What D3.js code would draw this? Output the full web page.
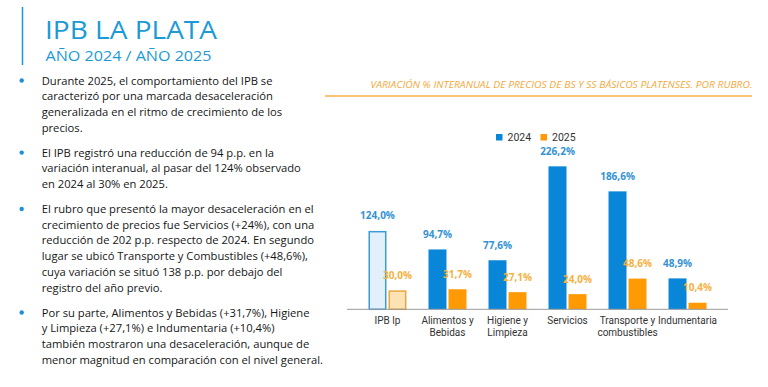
<!DOCTYPE html>
<html>
<head>
<meta charset="utf-8">
<script src="https://cdn.jsdelivr.net/npm/d3@7"></script>
<style>
  body { margin: 0; background: #fff; }
  svg { display: block; }
</style>
</head>
<body>
<div id="chart"></div>
<script>
// Data
var categories = [["IPB lp"], ["Alimentos y", "Bebidas"], ["Higiene y", "Limpieza"], ["Servicios"], ["Transporte y", "combustibles"], ["Indumentaria"]];
var years = ["2024", "2025"];
var values2024 = [124.0, 94.7, 77.6, 226.2, 186.6, 48.9];
var values2025 = [30.0, 31.7, 27.1, 24.0, 48.6, 10.4];

var paragraphs = [
  ["Durante 2025, el comportamiento del IPB se",
   "caracterizó por una marcada desaceleración",
   "generalizada en el ritmo de crecimiento de los",
   "precios."],
  ["El IPB registró una reducción de 94 p.p. en la",
   "variación interanual, al pasar del 124% observado",
   "en 2024 al 30% en 2025."],
  ["El rubro que presentó la mayor desaceleración en el",
   "crecimiento de precios fue Servicios (+24%), con una",
   "reducción de 202 p.p. respecto de 2024. En segundo",
   "lugar se ubicó Transporte y Combustibles (+48,6%),",
   "cuya variación se situó 138 p.p. por debajo del",
   "registro del año previo."],
  ["Por su parte, Alimentos y Bebidas (+31,7%), Higiene",
   "y Limpieza (+27,1%) e Indumentaria (+10,4%)",
   "también mostraron una desaceleración, aunque de",
   "menor magnitud en comparación con el nivel general."]
];

var width = 768, height = 387;
var blue = "#0a86d8", orange = "#ff9a05";
var titleBlue = "#1b9ad6";

var svg = d3.select("#chart").append("svg")
    .attr("width", width)
    .attr("height", height);

// Header
svg.append("line")
    .attr("x1", 22.5).attr("x2", 22.5)
    .attr("y1", 7).attr("y2", 65)
    .attr("stroke", titleBlue)
    .attr("stroke-width", 1.5);

svg.append("text")
    .attr("x", 45).attr("y", 38.8)
    .attr("font-family", "Open Sans")
    .attr("font-size", 25)
    .attr("fill", titleBlue)
    .attr("textLength", 172)
    .attr("lengthAdjust", "spacingAndGlyphs")
    .text("IPB LA PLATA");

svg.append("text")
    .attr("x", 45.5).attr("y", 61.3)
    .attr("font-family", "Open Sans")
    .attr("font-size", 14.6)
    .attr("fill", titleBlue)
    .attr("textLength", 166)
    .attr("lengthAdjust", "spacingAndGlyphs")
    .text("AÑO 2024 / AÑO 2025");

// Body text
var body = svg.append("g")
    .attr("font-family", "Open Sans")
    .attr("font-weight", 500)
    .attr("fill", "#161616");

var lineH = 15.7, paraGap = 9.3;
var yy = 84.5;
var textLines = [];
paragraphs.forEach(function(p) {
  body.append("circle")
      .attr("cx", 21.7).attr("cy", yy - 4)
      .attr("r", 2.2)
      .attr("fill", "#1f8fd6");
  p.forEach(function(line) {
    var t = body.append("text")
        .attr("x", 41.7).attr("y", yy)
        .attr("font-size", 12)
        .text(line);
    textLines.push(t);
    yy += lineH;
  });
  yy += paraGap;
});

// fit the widest line to the width seen in the reference
var widest = d3.max(textLines, function(t) { return t.node().getComputedTextLength(); });
var fs = 12 * 281.5 / widest;
textLines.forEach(function(t) { t.attr("font-size", fs); });

// Chart title + rule
svg.append("text")
    .attr("x", 752.5).attr("y", 88)
    .attr("text-anchor", "end")
    .attr("font-family", "Open Sans")
    .attr("font-style", "italic")
    .attr("font-size", 9.6)
    .attr("fill", "#f5a83a")
    .attr("textLength", 382)
    .attr("lengthAdjust", "spacingAndGlyphs")
    .text("VARIACIÓN % INTERANUAL DE PRECIOS DE BS Y SS BÁSICOS PLATENSES. POR RUBRO.");

svg.append("line")
    .attr("x1", 325).attr("x2", 752)
    .attr("y1", 96).attr("y2", 96)
    .attr("stroke", "#f7b04a")
    .attr("stroke-width", 1.5);

// Scales
var x0 = d3.scaleBand()
    .domain(d3.range(categories.length))
    .range([347, 728])
    .paddingInner(0.367)
    .paddingOuter(0.358);

var x1 = d3.scaleBand()
    .domain(years)
    .range([0, x0.bandwidth()])
    .paddingInner(0.1);

var y = d3.scaleLinear()
    .domain([0, 250])
    .range([309.3, 151.3]);

var data = categories.map(function(c, i) {
  return { i: i, label: c, v: { "2024": values2024[i], "2025": values2025[i] } };
});

var fmt = function(v) { return v.toFixed(1).replace(".", ",") + "%"; };

var groups = svg.selectAll(".grp")
    .data(data)
  .enter().append("g")
    .attr("class", "grp")
    .attr("transform", function(d) { return "translate(" + x0(d.i) + ",0)"; });

groups.selectAll("rect")
    .data(function(d) { return years.map(function(yr) { return { yr: yr, v: d.v[yr], first: d.i === 0 }; }); })
  .enter().append("rect")
    .attr("x", function(d) { return x1(d.yr) + (d.first ? 0.75 : 0); })
    .attr("y", function(d) { return y(d.v) + (d.first ? 0.75 : 0); })
    .attr("width", function(d) { return x1.bandwidth() - (d.first ? 1.5 : 0); })
    .attr("height", function(d) { return y(0) - y(d.v) - (d.first ? 0.75 : 0); })
    .attr("fill", function(d) {
      if (d.first) return d.yr === "2024" ? "#e2f0fb" : "#fde2b4";
      return d.yr === "2024" ? blue : orange;
    })
    .attr("stroke", function(d) {
      if (!d.first) return "none";
      return d.yr === "2024" ? "#3c9ad8" : "#eaa640";
    })
    .attr("stroke-width", 1.5);

groups.selectAll(".val")
    .data(function(d) { return years.map(function(yr) { return { yr: yr, v: d.v[yr] }; }); })
  .enter().append("text")
    .attr("class", "val")
    .attr("x", function(d) { return x1(d.yr) + x1.bandwidth() / 2; })
    .attr("y", function(d) { return y(d.v) - 11.5; })
    .attr("text-anchor", "middle")
    .attr("font-family", "Open Sans")
    .attr("font-weight", "bold")
    .attr("font-size", 10)
    .attr("fill", function(d) { return d.yr === "2024" ? "#3493d3" : "#f6b13f"; })
    .text(function(d) { return fmt(d.v); });

// Baseline
svg.append("line")
    .attr("x1", 347).attr("x2", 728)
    .attr("y1", y(0)).attr("y2", y(0))
    .attr("stroke", "#999")
    .attr("stroke-width", 1);

// Category labels
groups.each(function(d) {
  var t = d3.select(this).append("text")
      .attr("x", x0.bandwidth() / 2)
      .attr("y", 324)
      .attr("text-anchor", "middle")
      .attr("font-family", "Roboto, Liberation Sans, sans-serif")
      .attr("font-size", 10)
      .attr("fill", "#333");
  d.label.forEach(function(l, k) {
    t.append("tspan")
        .attr("x", x0.bandwidth() / 2)
        .attr("dy", k === 0 ? 0 : 11.7)
        .text(l);
  });
});

// Legend
var legend = svg.append("g")
    .attr("font-family", "Roboto, Liberation Sans, sans-serif")
    .attr("font-size", 10.5)
    .attr("fill", "#333");

var legX = [496, 540.5];
years.forEach(function(yr, k) {
  legend.append("rect")
      .attr("x", legX[k]).attr("y", 134)
      .attr("width", 6.5).attr("height", 6.5)
      .attr("fill", k === 0 ? blue : orange);
  legend.append("text")
      .attr("x", legX[k] + 11.5).attr("y", 141)
      .text(yr);
});
</script>
</body>
</html>
